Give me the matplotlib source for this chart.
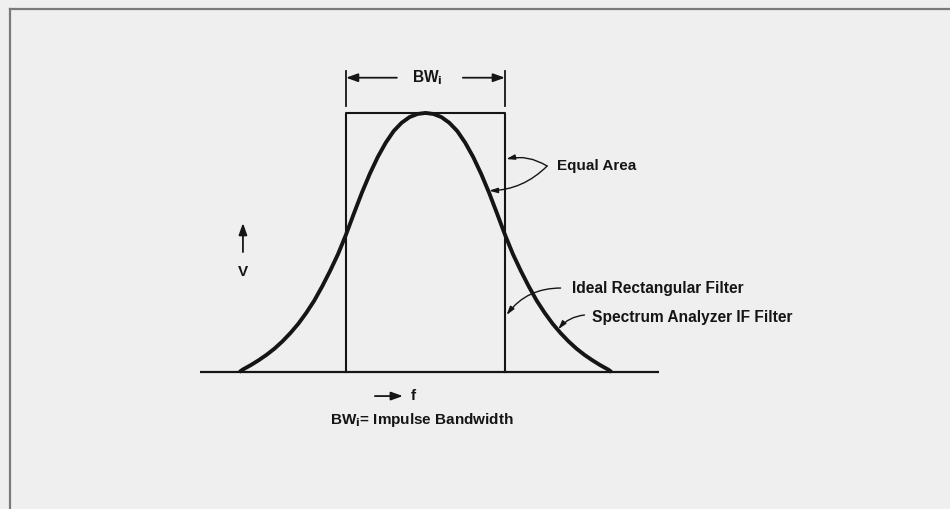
import matplotlib
matplotlib.use("Agg")
import matplotlib.pyplot as plt

# frequency in units of the impulse bandwidth, voltage relative to peak
half_f = [0.0, 0.05, 0.10, 0.15, 0.20, 0.25, 0.30, 0.35, 0.40, 0.45, 0.50,
          0.55, 0.60, 0.65, 0.70, 0.75, 0.80, 0.85, 0.90, 0.95, 1.00,
          1.05, 1.10, 1.15, 1.17]
half_v = [1.0, 0.996, 0.984, 0.962, 0.93, 0.885, 0.83, 0.765, 0.692, 0.612, 0.53,
          0.455, 0.39, 0.33, 0.275, 0.228, 0.186, 0.15, 0.118, 0.09, 0.066,
          0.045, 0.026, 0.009, 0.0]

# the IF filter response is symmetric about the centre frequency
if_f = [-f for f in half_f[::-1]] + half_f[1:]
if_v = half_v[::-1] + half_v[1:]

rect_f = [-0.5, -0.5, 0.5, 0.5]
rect_v = [0.0, 1.0, 1.0, 0.0]

base_f = [-1.42, 1.47]
base_v = [0.0, 0.0]

bg = "#efefef"
ink = "#151515"
txt = dict(fontfamily="Liberation Sans", fontweight="bold", color=ink)

fig = plt.figure(figsize=(9.5, 5.09), dpi=100, facecolor=bg)
ax = fig.add_axes([0, 0, 1, 1])
ax.set_facecolor(bg)
ax.set_xlim(-2.676, 3.299)
ax.set_ylim(-0.529, 1.436)
ax.axis("off")

ax.plot(base_f, base_v, color=ink, lw=1.6, solid_capstyle="butt")
ax.plot(rect_f, rect_v, color=ink, lw=1.5)
ax.plot(if_f, if_v, color=ink, lw=2.8, solid_capstyle="butt", solid_joinstyle="round")

# bandwidth marker on top
for f in (-0.5, 0.5):
    ax.plot([f, f], [1.027, 1.163], color=ink, lw=1.3)
head = dict(arrowstyle="-|>,head_length=0.7,head_width=0.25", color=ink, lw=1.3,
            shrinkA=0, shrinkB=0)
ax.annotate("", xy=(-0.5, 1.136), xytext=(-0.18, 1.136), arrowprops=head)
ax.annotate("", xy=(0.5, 1.136), xytext=(0.235, 1.136), arrowprops=head)
ax.text(0.01, 1.136, "BW$_\\mathbf{i}$", ha="center", va="center", fontsize=11.2, **txt)

# axis hints
ax.annotate("", xy=(-1.148, 0.575), xytext=(-1.148, 0.463), arrowprops=head)
ax.text(-1.148, 0.386, "V", ha="center", va="center", fontsize=11, **txt)
ax.annotate("", xy=(-0.142, -0.093), xytext=(-0.318, -0.093), arrowprops=head)
ax.text(-0.09, -0.093, "f", ha="left", va="center", fontsize=11, **txt)
ax.text(-0.60, -0.185, "BW$_\\mathbf{i}$= Impulse Bandwidth", ha="left", va="center",
        fontsize=11, **txt)

# callouts
thin = dict(arrowstyle="-|>,head_length=0.5,head_width=0.15", color=ink, lw=1.0,
            shrinkA=0, shrinkB=0)
ax.text(0.83, 0.795, "Equal Area", ha="left", va="center", fontsize=11, **txt)
ax.annotate("", xy=(0.508, 0.822), xytext=(0.765, 0.795),
            arrowprops=dict(thin, connectionstyle="arc3,rad=0.2"))
ax.annotate("", xy=(0.40, 0.70), xytext=(0.765, 0.795),
            arrowprops=dict(thin, connectionstyle="arc3,rad=-0.2"))

ax.text(0.92, 0.324, "Ideal Rectangular Filter", ha="left", va="center",
        fontsize=11.2, **txt)
ax.annotate("", xy=(0.51, 0.22), xytext=(0.85, 0.324),
            arrowprops=dict(thin, connectionstyle="arc3,rad=0.25"))

ax.text(1.045, 0.21, "Spectrum Analyzer IF Filter", ha="left", va="center",
        fontsize=11.2, **txt)
ax.annotate("", xy=(0.835, 0.165), xytext=(1.0, 0.22),
            arrowprops=dict(thin, connectionstyle="arc3,rad=0.2"))

# frame lines of the printed figure
ax.plot([0.0105, 1.0], [0.982, 0.982], transform=ax.transAxes, color="#7a7a7a", lw=1.6,
        clip_on=False)
ax.plot([0.0105, 0.0105], [0.0, 0.982], transform=ax.transAxes, color="#7a7a7a", lw=1.6,
        clip_on=False)

fig.savefig("out.png", dpi=100, facecolor=bg)
